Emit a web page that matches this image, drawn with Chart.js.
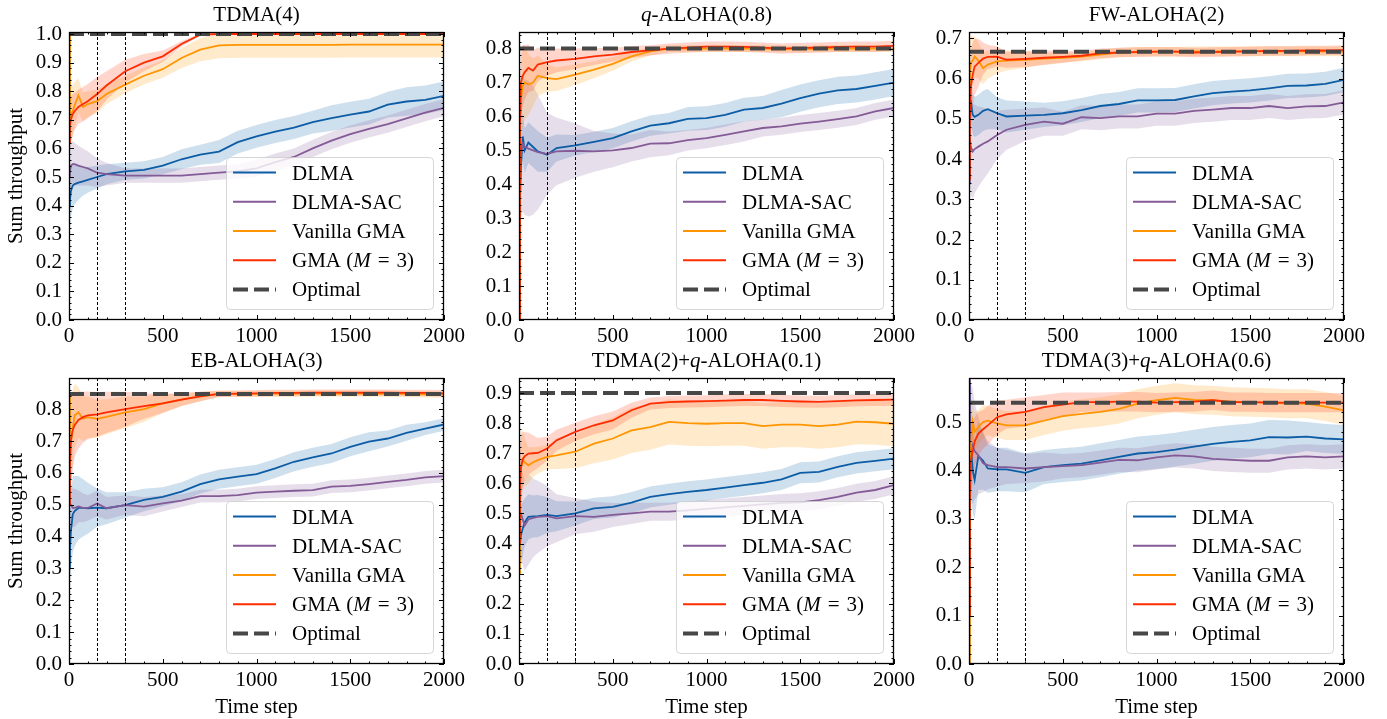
<!DOCTYPE html>
<html>
<head>
<meta charset="utf-8">
<script src="https://cdn.jsdelivr.net/npm/chart.js@4.4.0/dist/chart.umd.min.js"></script>
<style>
  body { margin: 0; background: #fff; width: 1387px; height: 719px; position: relative; overflow: hidden; }
  canvas { position: absolute; }
</style>
</head>
<body>
<canvas id="c0" width="474" height="375" style="left:0px;top:0px"></canvas>
<canvas id="c1" width="474" height="375" style="left:450px;top:0px"></canvas>
<canvas id="c2" width="474" height="375" style="left:900px;top:0px"></canvas>
<canvas id="c3" width="474" height="374" style="left:0px;top:346px"></canvas>
<canvas id="c4" width="474" height="374" style="left:450px;top:346px"></canvas>
<canvas id="c5" width="474" height="374" style="left:900px;top:346px"></canvas>
<script>
const steps = [0, 5, 10, 20, 30, 50, 75, 100, 150, 200, 300, 400, 500, 600, 700, 800, 900, 1000, 1100, 1200, 1300, 1400, 1500, 1600, 1700, 1800, 1900, 2000];
const markerSteps = [150, 300];
const seriesNames = ['DLMA', 'DLMA-SAC', 'Vanilla GMA', 'GMA (*M*\u2004=\u20043)'];
const optimalName = 'Optimal';
const colors = ['#0C5DA5', '#845B97', '#FF9500', '#FF2C00'];
const bands = ['rgba(12,93,165,0.2)', 'rgba(132,91,151,0.2)', 'rgba(255,149,0,0.2)', 'rgba(255,44,0,0.2)'];

// TDMA(4)
const tdma4_dlma = [0.40,0.42,0.45,0.47,0.475,0.48,0.485,0.49,0.50,0.51,0.52,0.525,0.54,0.562,0.578,0.589,0.622,0.642,0.659,0.673,0.692,0.706,0.718,0.729,0.753,0.764,0.770,0.784];
const tdma4_dlma_sd = [0.10,0.10,0.09,0.08,0.07,0.06,0.05,0.045,0.04,0.035,0.03,0.03,0.03,0.035,0.035,0.04,0.04,0.04,0.04,0.04,0.04,0.045,0.045,0.045,0.045,0.05,0.05,0.05];
const tdma4_sac = [0.50,0.52,0.54,0.545,0.545,0.54,0.535,0.53,0.515,0.51,0.505,0.505,0.505,0.505,0.51,0.515,0.52,0.53,0.552,0.57,0.60,0.627,0.65,0.668,0.685,0.705,0.725,0.742];
const tdma4_sac_sd = [0.10,0.09,0.08,0.08,0.075,0.07,0.065,0.06,0.05,0.04,0.025,0.025,0.025,0.025,0.025,0.025,0.025,0.03,0.03,0.03,0.03,0.03,0.03,0.03,0.03,0.03,0.03,0.03];
const tdma4_van = [1.00,0.70,0.72,0.73,0.75,0.785,0.745,0.755,0.765,0.79,0.823,0.854,0.877,0.916,0.945,0.96,0.962,0.962,0.962,0.962,0.962,0.962,0.963,0.963,0.963,0.963,0.963,0.963];
const tdma4_van_sd = [0,0.1,0.1,0.09,0.08,0.06,0.05,0.045,0.04,0.035,0.03,0.03,0.03,0.035,0.04,0.045,0.045,0.045,0.045,0.045,0.045,0.045,0.045,0.045,0.045,0.045,0.045,0.045];
const tdma4_gma = [0.62,0.68,0.70,0.72,0.73,0.745,0.755,0.765,0.79,0.82,0.87,0.90,0.922,0.965,0.998,1.0,1.0,1.0,1.0,1.0,1.0,1.0,1.0,1.0,1.0,1.0,1.0,1.0];
const tdma4_gma_sd = [0.1,0.09,0.08,0.07,0.065,0.06,0.06,0.06,0.06,0.05,0.04,0.03,0.02,0.01,0.003,0,0,0,0,0,0,0,0,0,0,0,0,0];

// q-ALOHA(0.8)
const q8_dlma = [0.0,0.35,0.45,0.541,0.50,0.523,0.51,0.497,0.487,0.507,0.515,0.525,0.536,0.556,0.573,0.58,0.593,0.595,0.605,0.62,0.625,0.638,0.654,0.667,0.677,0.681,0.69,0.70];
const q8_dlma_sd = [0,0.08,0.08,0.07,0.065,0.06,0.06,0.06,0.05,0.04,0.03,0.03,0.03,0.03,0.03,0.03,0.035,0.035,0.035,0.035,0.035,0.04,0.04,0.04,0.04,0.04,0.04,0.04];
const q8_sac = [0.0,0.40,0.48,0.52,0.51,0.505,0.50,0.495,0.49,0.497,0.499,0.497,0.50,0.507,0.52,0.521,0.53,0.536,0.546,0.556,0.566,0.571,0.579,0.585,0.592,0.60,0.615,0.625];
const q8_sac_sd = [0,0.15,0.18,0.2,0.2,0.2,0.19,0.17,0.12,0.1,0.08,0.06,0.05,0.04,0.04,0.035,0.03,0.03,0.03,0.03,0.025,0.025,0.025,0.025,0.025,0.025,0.025,0.025];
const q8_van = [0.0,0.55,0.65,0.69,0.70,0.694,0.70,0.72,0.713,0.71,0.723,0.738,0.755,0.777,0.792,0.80,0.80,0.80,0.80,0.80,0.80,0.799,0.798,0.80,0.80,0.80,0.80,0.80];
const q8_van_sd = [0,0.1,0.1,0.12,0.11,0.09,0.07,0.06,0.04,0.035,0.03,0.025,0.02,0.015,0.012,0.01,0.01,0.01,0.01,0.01,0.01,0.01,0.01,0.01,0.01,0.01,0.01,0.01];
const q8_gma = [0.0,0.55,0.70,0.72,0.73,0.743,0.735,0.753,0.76,0.765,0.77,0.777,0.782,0.79,0.795,0.80,0.803,0.806,0.806,0.805,0.803,0.80,0.802,0.803,0.805,0.806,0.806,0.808];
const q8_gma_sd = [0,0.1,0.1,0.09,0.08,0.07,0.06,0.05,0.04,0.035,0.03,0.025,0.02,0.018,0.015,0.015,0.015,0.015,0.015,0.015,0.015,0.015,0.015,0.015,0.015,0.015,0.015,0.015];

// FW-ALOHA(2)
const fw_dlma = [0.56,0.55,0.543,0.51,0.505,0.51,0.52,0.524,0.514,0.506,0.508,0.51,0.514,0.522,0.532,0.537,0.546,0.546,0.547,0.556,0.564,0.568,0.571,0.576,0.582,0.583,0.587,0.597];
const fw_dlma_sd = [0.05,0.05,0.05,0.05,0.05,0.05,0.05,0.05,0.04,0.04,0.035,0.03,0.03,0.03,0.03,0.03,0.03,0.03,0.03,0.03,0.03,0.03,0.03,0.03,0.03,0.03,0.03,0.03];
const fw_sac = [0.34,0.45,0.43,0.419,0.425,0.431,0.438,0.444,0.46,0.473,0.485,0.493,0.488,0.504,0.502,0.506,0.506,0.513,0.513,0.52,0.523,0.527,0.527,0.532,0.527,0.531,0.532,0.541];
const fw_sac_sd = [0.1,0.12,0.12,0.12,0.11,0.1,0.09,0.08,0.06,0.05,0.04,0.035,0.03,0.03,0.03,0.03,0.03,0.03,0.03,0.03,0.03,0.03,0.03,0.03,0.03,0.03,0.03,0.03];
const fw_van = [0.57,0.62,0.64,0.645,0.655,0.645,0.626,0.635,0.643,0.645,0.647,0.65,0.652,0.655,0.66,0.665,0.667,0.667,0.667,0.668,0.668,0.668,0.668,0.668,0.668,0.668,0.668,0.668];
const fw_van_sd = [0.1,0.08,0.07,0.06,0.05,0.045,0.04,0.035,0.03,0.025,0.02,0.015,0.012,0.012,0.012,0.012,0.012,0.012,0.012,0.012,0.012,0.012,0.012,0.012,0.012,0.012,0.012,0.012];
const fw_gma = [0.35,0.50,0.58,0.61,0.63,0.639,0.65,0.654,0.655,0.647,0.649,0.652,0.654,0.657,0.663,0.665,0.666,0.667,0.667,0.665,0.666,0.667,0.668,0.669,0.669,0.67,0.67,0.671];
const fw_gma_sd = [0.1,0.1,0.09,0.08,0.07,0.06,0.04,0.03,0.025,0.02,0.02,0.018,0.015,0.012,0.012,0.012,0.012,0.012,0.012,0.012,0.012,0.012,0.012,0.012,0.012,0.012,0.012,0.012];

// EB-ALOHA(3)
const eb_dlma = [0.30,0.36,0.416,0.47,0.48,0.49,0.49,0.489,0.491,0.489,0.499,0.515,0.525,0.541,0.565,0.58,0.588,0.596,0.614,0.635,0.649,0.661,0.682,0.698,0.708,0.726,0.739,0.752];
const eb_dlma_sd = [0.12,0.12,0.12,0.12,0.11,0.1,0.09,0.08,0.06,0.05,0.04,0.035,0.03,0.03,0.03,0.03,0.03,0.03,0.03,0.03,0.03,0.03,0.03,0.03,0.025,0.025,0.02,0.02];
const eb_sac = [0.5,0.5,0.5,0.49,0.49,0.495,0.49,0.49,0.504,0.489,0.499,0.494,0.504,0.513,0.527,0.527,0.53,0.538,0.541,0.544,0.546,0.557,0.559,0.565,0.572,0.578,0.586,0.59];
const eb_sac_sd = [0.08,0.08,0.07,0.06,0.06,0.05,0.045,0.04,0.04,0.035,0.03,0.03,0.025,0.02,0.02,0.02,0.02,0.02,0.02,0.02,0.02,0.02,0.02,0.02,0.02,0.02,0.02,0.02];
const eb_van = [0.85,0.65,0.70,0.74,0.78,0.79,0.77,0.775,0.77,0.776,0.79,0.80,0.818,0.83,0.84,0.848,0.848,0.848,0.849,0.849,0.849,0.849,0.849,0.849,0.848,0.848,0.847,0.846];
const eb_van_sd = [0,0.15,0.14,0.12,0.1,0.08,0.07,0.065,0.06,0.055,0.05,0.04,0.03,0.02,0.015,0.01,0.01,0.01,0.01,0.01,0.01,0.01,0.01,0.01,0.01,0.01,0.01,0.01];
const eb_gma = [0.5,0.62,0.70,0.735,0.75,0.766,0.775,0.781,0.784,0.79,0.80,0.81,0.818,0.83,0.84,0.848,0.849,0.85,0.851,0.851,0.852,0.852,0.852,0.852,0.852,0.851,0.851,0.85];
const eb_gma_sd = [0.15,0.15,0.14,0.12,0.1,0.09,0.08,0.075,0.07,0.065,0.055,0.04,0.03,0.02,0.015,0.01,0.01,0.01,0.01,0.01,0.01,0.01,0.01,0.01,0.01,0.01,0.01,0.01];

// TDMA(2)+q-ALOHA(0.1)
const tq1_dlma = [0.35,0.40,0.428,0.45,0.47,0.489,0.49,0.491,0.495,0.491,0.50,0.517,0.522,0.536,0.555,0.564,0.572,0.578,0.586,0.594,0.602,0.613,0.635,0.638,0.655,0.668,0.675,0.682];
const tq1_dlma_sd = [0.1,0.1,0.1,0.09,0.08,0.075,0.07,0.07,0.06,0.05,0.04,0.035,0.035,0.035,0.035,0.035,0.035,0.035,0.035,0.035,0.035,0.035,0.035,0.035,0.035,0.035,0.035,0.035];
const tq1_sac = [0.45,0.50,0.50,0.48,0.46,0.48,0.485,0.489,0.491,0.484,0.491,0.489,0.495,0.50,0.506,0.506,0.51,0.515,0.52,0.525,0.53,0.535,0.537,0.544,0.555,0.569,0.578,0.594];
const tq1_sac_sd = [0.15,0.15,0.15,0.15,0.15,0.15,0.13,0.12,0.1,0.08,0.06,0.05,0.04,0.035,0.03,0.03,0.03,0.03,0.03,0.03,0.03,0.03,0.03,0.03,0.03,0.03,0.03,0.03];
const tq1_van = [0.30,0.55,0.65,0.68,0.67,0.66,0.67,0.677,0.688,0.693,0.705,0.732,0.749,0.776,0.787,0.804,0.80,0.798,0.80,0.80,0.79,0.795,0.795,0.79,0.795,0.805,0.803,0.798];
const tq1_van_sd = [0.1,0.12,0.12,0.1,0.08,0.06,0.05,0.045,0.04,0.045,0.055,0.065,0.07,0.075,0.075,0.075,0.075,0.075,0.075,0.075,0.075,0.075,0.075,0.075,0.075,0.075,0.075,0.075];
const tq1_gma = [0.40,0.60,0.65,0.68,0.69,0.699,0.70,0.701,0.716,0.743,0.771,0.793,0.809,0.843,0.865,0.87,0.872,0.873,0.875,0.877,0.877,0.874,0.872,0.871,0.873,0.876,0.877,0.878];
const tq1_gma_sd = [0.1,0.12,0.11,0.09,0.08,0.07,0.06,0.05,0.04,0.035,0.03,0.03,0.03,0.025,0.02,0.02,0.02,0.02,0.02,0.02,0.02,0.02,0.02,0.02,0.02,0.02,0.02,0.02];

// TDMA(3)+q-ALOHA(0.6)
const tq6_dlma = [0.58,0.50,0.45,0.40,0.38,0.43,0.42,0.404,0.402,0.402,0.395,0.407,0.411,0.414,0.421,0.428,0.435,0.438,0.443,0.449,0.455,0.459,0.462,0.469,0.468,0.47,0.466,0.464];
const tq6_dlma_sd = [0.1,0.1,0.1,0.09,0.08,0.07,0.06,0.05,0.045,0.045,0.04,0.035,0.035,0.035,0.035,0.035,0.035,0.035,0.035,0.035,0.035,0.035,0.035,0.035,0.035,0.03,0.03,0.03];
const tq6_sac = [0.59,0.50,0.46,0.45,0.44,0.431,0.415,0.411,0.407,0.407,0.404,0.407,0.409,0.411,0.416,0.422,0.421,0.427,0.431,0.429,0.424,0.422,0.42,0.42,0.427,0.429,0.427,0.429];
const tq6_sac_sd = [0.1,0.12,0.12,0.12,0.1,0.08,0.06,0.05,0.04,0.035,0.03,0.03,0.025,0.025,0.025,0.025,0.025,0.025,0.025,0.025,0.025,0.025,0.025,0.025,0.025,0.025,0.025,0.025];
const tq6_van = [0.0,0.40,0.45,0.50,0.48,0.49,0.50,0.503,0.497,0.493,0.493,0.503,0.512,0.517,0.521,0.527,0.538,0.545,0.55,0.546,0.545,0.542,0.541,0.54,0.538,0.538,0.532,0.524];
const tq6_van_sd = [0,0.06,0.05,0.04,0.04,0.035,0.035,0.03,0.03,0.03,0.03,0.03,0.03,0.03,0.03,0.03,0.03,0.03,0.03,0.03,0.03,0.03,0.03,0.03,0.03,0.03,0.03,0.03];
const tq6_gma = [0.10,0.35,0.42,0.44,0.46,0.476,0.485,0.493,0.51,0.516,0.521,0.531,0.536,0.541,0.541,0.542,0.542,0.54,0.541,0.542,0.545,0.541,0.541,0.54,0.54,0.54,0.54,0.54];
const tq6_gma_sd = [0.1,0.1,0.08,0.06,0.05,0.045,0.04,0.04,0.035,0.03,0.03,0.025,0.025,0.02,0.02,0.02,0.02,0.02,0.02,0.02,0.02,0.02,0.02,0.02,0.02,0.02,0.02,0.02];

const panels = [
  { id: 'c0', title: 'TDMA(4)', optimal: 1.0, yMax: 1.007, row: 0, col: 0,
    series: [[tdma4_dlma, tdma4_dlma_sd], [tdma4_sac, tdma4_sac_sd], [tdma4_van, tdma4_van_sd], [tdma4_gma, tdma4_gma_sd]] },
  { id: 'c1', title: '*q*-ALOHA(0.8)', optimal: 0.8, yMax: 0.849, row: 0, col: 1,
    series: [[q8_dlma, q8_dlma_sd], [q8_sac, q8_sac_sd], [q8_van, q8_van_sd], [q8_gma, q8_gma_sd]] },
  { id: 'c2', title: 'FW-ALOHA(2)', optimal: 0.667, yMax: 0.716, row: 0, col: 2,
    series: [[fw_dlma, fw_dlma_sd], [fw_sac, fw_sac_sd], [fw_van, fw_van_sd], [fw_gma, fw_gma_sd]] },
  { id: 'c3', title: 'EB-ALOHA(3)', optimal: 0.848, yMax: 0.898, row: 1, col: 0,
    series: [[eb_dlma, eb_dlma_sd], [eb_sac, eb_sac_sd], [eb_van, eb_van_sd], [eb_gma, eb_gma_sd]] },
  { id: 'c4', title: 'TDMA(2)+*q*-ALOHA(0.1)', optimal: 0.9, yMax: 0.95, row: 1, col: 1,
    series: [[tq1_dlma, tq1_dlma_sd], [tq1_sac, tq1_sac_sd], [tq1_van, tq1_van_sd], [tq1_gma, tq1_gma_sd]] },
  { id: 'c5', title: 'TDMA(3)+*q*-ALOHA(0.6)', optimal: 0.54, yMax: 0.591, row: 1, col: 2,
    series: [[tq6_dlma, tq6_dlma_sd], [tq6_sac, tq6_sac_sd], [tq6_van, tq6_van_sd], [tq6_gma, tq6_gma_sd]] }
];

const FONT = '"Liberation Serif", serif';
const FS = 21;
Chart.defaults.font.family = FONT;
Chart.defaults.font.size = FS;
Chart.defaults.color = '#000';

// text with *italic* parts
function drawRich(ctx, str, x, y, align) {
  const parts = str.split('*');
  const fonts = parts.map((p, i) => (i % 2 ? 'italic ' : '') + FS + 'px ' + FONT);
  const widths = parts.map((p, i) => { ctx.font = fonts[i]; return ctx.measureText(p).width; });
  const total = widths.reduce((a, b) => a + b, 0);
  let cx = align === 'center' ? x - total / 2 : x;
  ctx.textAlign = 'left';
  ctx.textBaseline = 'alphabetic';
  parts.forEach((p, i) => { ctx.font = fonts[i]; ctx.fillText(p, cx, y); cx += widths[i]; });
}

function makeDeco(p) {
  return {
    id: 'deco',
    afterDatasetsDraw(chart) {
      const { ctx, chartArea: a, scales: { x } } = chart;
      ctx.save();
      ctx.strokeStyle = '#000';
      ctx.lineWidth = 1;
      ctx.setLineDash([3, 2]);
      markerSteps.forEach(v => {
        const px = Math.round(x.getPixelForValue(v)) + 0.5;
        ctx.beginPath(); ctx.moveTo(px, a.top); ctx.lineTo(px, a.bottom); ctx.stroke();
      });
      ctx.restore();
    },
    afterDraw(chart) {
      const { ctx, chartArea: a, scales: { x, y } } = chart;
      ctx.save();
      // inward ticks on all four sides + frame
      ctx.strokeStyle = '#000';
      ctx.lineWidth = 1;
      ctx.beginPath();
      for (let v = 0; v <= 2000; v += 100) {
        const px = Math.round(x.getPixelForValue(v)) + 0.5;
        const len = v % 500 === 0 ? 5 : 2.5;
        ctx.moveTo(px, a.bottom); ctx.lineTo(px, a.bottom - len);
        ctx.moveTo(px, a.top); ctx.lineTo(px, a.top + len);
      }
      for (let k = 0; k * 0.02 <= p.yMax + 1e-9; k++) {
        const py = Math.round(y.getPixelForValue(k * 0.02)) + 0.5;
        const len = k % 5 === 0 ? 5 : 2.5;
        ctx.moveTo(a.left, py); ctx.lineTo(a.left + len, py);
        ctx.moveTo(a.right, py); ctx.lineTo(a.right - len, py);
      }
      ctx.stroke();
      ctx.lineWidth = 1.3;
      ctx.strokeRect(Math.round(a.left) + 0.5, Math.round(a.top) + 0.5, Math.round(a.width) - 1, Math.round(a.height) - 1);

      // legend
      const w = 207, h = 152;
      const x0 = a.right - 11 - w, y0 = a.bottom - 11 - h;
      ctx.lineWidth = 1;
      ctx.beginPath();
      ctx.roundRect(x0 + 0.5, y0 + 0.5, w, h, 4);
      ctx.fillStyle = 'rgba(255,255,255,0.8)';
      ctx.fill();
      ctx.strokeStyle = 'rgba(204,204,204,0.8)';
      ctx.stroke();
      const names = seriesNames.concat([optimalName]);
      names.forEach((name, i) => {
        const ry = y0 + 15.6 + i * 29.2;
        ctx.beginPath();
        if (i < 4) {
          ctx.setLineDash([]);
          ctx.strokeStyle = colors[i];
          ctx.lineWidth = 2;
        } else {
          ctx.setLineDash([15, 6]);
          ctx.strokeStyle = '#474747';
          ctx.lineWidth = 4;
        }
        ctx.moveTo(x0 + 7, ry); ctx.lineTo(x0 + 50, ry); ctx.stroke();
        ctx.fillStyle = '#000';
        drawRich(ctx, name, x0 + 66, ry + 7, 'left');
      });
      ctx.setLineDash([]);

      // title
      ctx.fillStyle = '#000';
      drawRich(ctx, p.title, (a.left + a.right) / 2, a.top - 11, 'center');

      // axis titles
      if (p.col === 0) {
        ctx.save();
        ctx.translate(21.5, (a.top + a.bottom) / 2);
        ctx.rotate(-Math.PI / 2);
        drawRich(ctx, 'Sum throughput', 0, 0, 'center');
        ctx.restore();
      }
      if (p.row === 1) {
        drawRich(ctx, 'Time step', (a.left + a.right) / 2, a.bottom + 49, 'center');
      }
      ctx.restore();
    }
  };
}

panels.forEach(p => {
  const datasets = [];
  p.series.forEach((s, i) => {
    const [mean, sd] = s;
    const lowIdx = datasets.length;
    datasets.push({
      data: steps.map((t, k) => ({ x: t, y: mean[k] - sd[k] })),
      borderColor: 'transparent', borderWidth: 0, fill: false, order: 30 - i
    });
    datasets.push({
      data: steps.map((t, k) => ({ x: t, y: mean[k] + sd[k] })),
      borderColor: 'transparent', borderWidth: 0, backgroundColor: bands[i],
      fill: { target: lowIdx, above: bands[i], below: bands[i] }, order: 30 - i
    });
  });
  p.series.forEach((s, i) => {
    datasets.push({
      label: seriesNames[i],
      data: steps.map((t, k) => ({ x: t, y: s[0][k] })),
      borderColor: colors[i], borderWidth: 1.8, fill: false, order: 20 - i
    });
  });
  datasets.push({
    label: optimalName,
    data: [{ x: 0, y: p.optimal }, { x: 2000, y: p.optimal }],
    borderColor: '#474747', borderWidth: 4, borderDash: [15, 6], fill: false, order: 0
  });

  const xAxisH = p.row === 0 ? 55 : 56;
  new Chart(document.getElementById(p.id), {
    type: 'line',
    data: { datasets },
    options: {
      responsive: false,
      animation: false,
      devicePixelRatio: 1,
      layout: { padding: { left: 0, top: 32, right: 30, bottom: 0 } },
      elements: { point: { radius: 0 }, line: { tension: 0 } },
      scales: {
        x: {
          type: 'linear', min: 0, max: 2000,
          grid: { display: false, drawTicks: false },
          border: { display: false },
          ticks: { stepSize: 500, padding: 4, maxRotation: 0, autoSkip: false, callback: v => String(v) },
          afterFit: s => { s.height = xAxisH; }
        },
        y: {
          type: 'linear', min: 0, max: p.yMax,
          grid: { display: false, drawTicks: false },
          border: { display: false },
          ticks: { stepSize: 0.1, includeBounds: false, padding: 7, callback: v => v.toFixed(1) },
          afterFit: s => { s.width = 69; }
        }
      },
      plugins: {
        legend: { display: false },
        tooltip: { enabled: false },
        title: { display: false }
      }
    },
    plugins: [makeDeco(p)]
  });
});
</script>
</body>
</html>
